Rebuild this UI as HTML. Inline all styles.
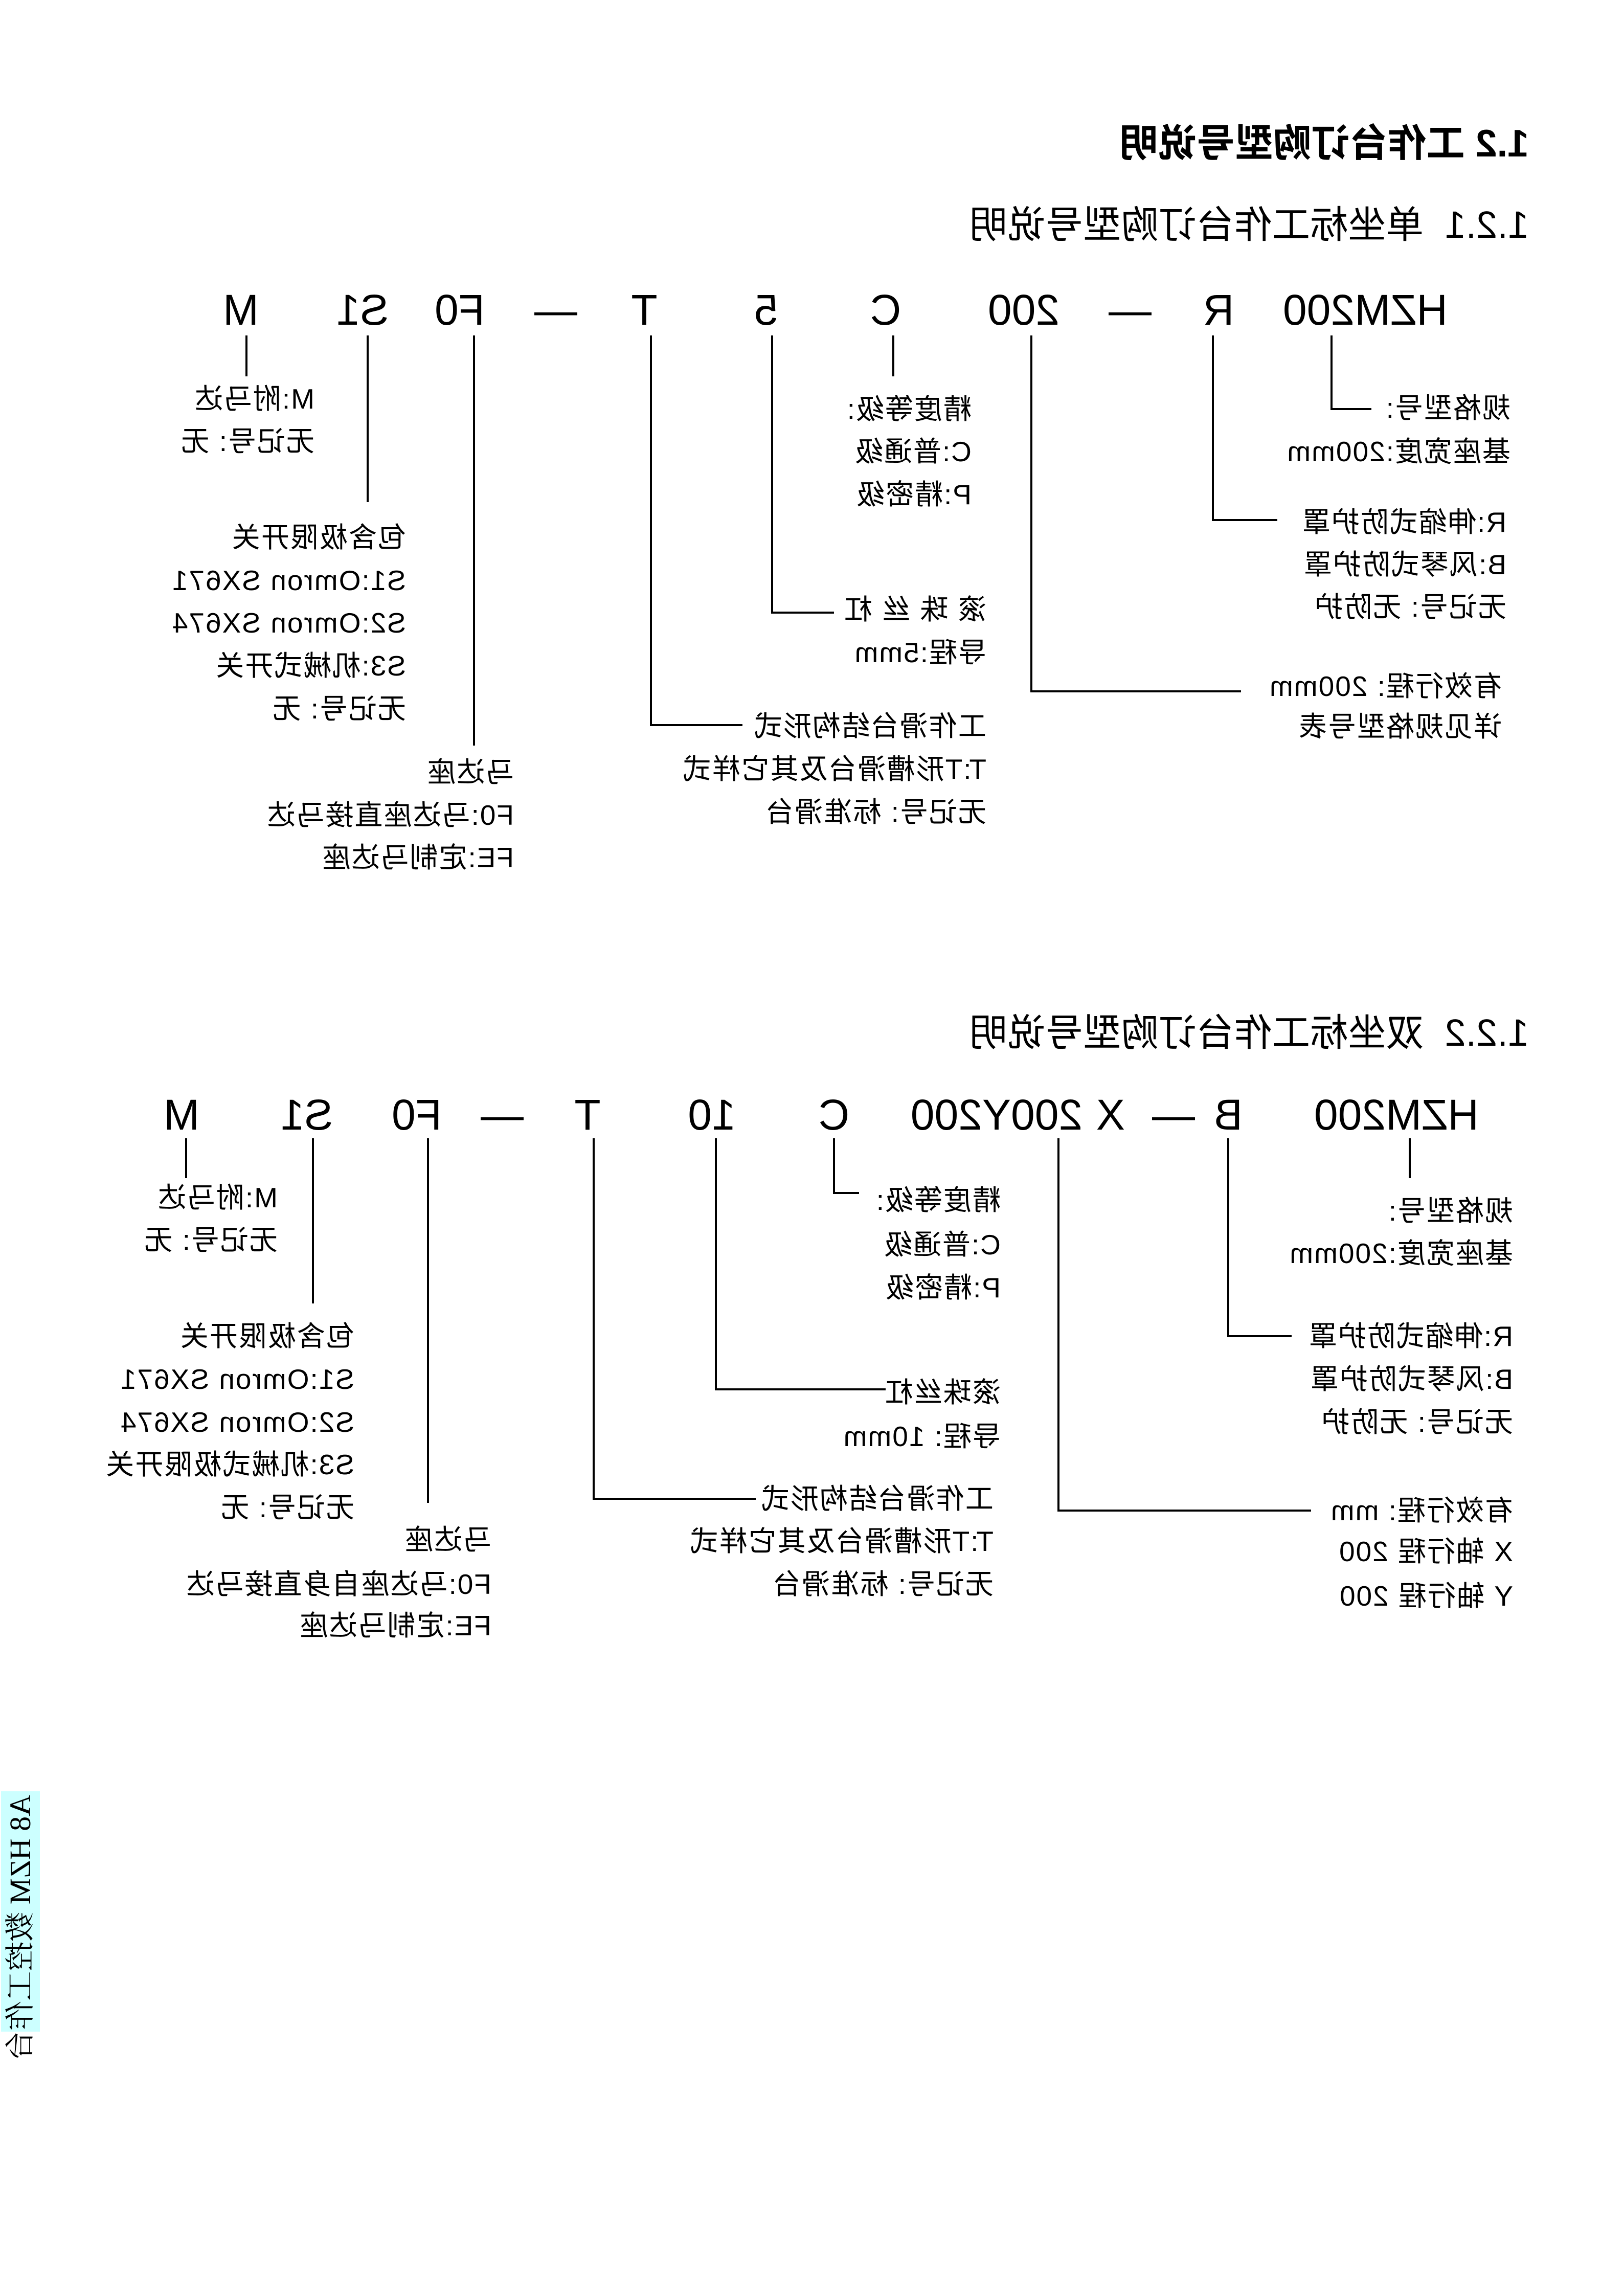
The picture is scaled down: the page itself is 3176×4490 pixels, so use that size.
<!DOCTYPE html>
<html><head><meta charset="utf-8"><style>
html,body{margin:0;padding:0;background:#fff;}
#wrap{position:relative;width:3176px;height:4490px;overflow:hidden;}
#m{position:absolute;left:0;top:0;width:3176px;height:4490px;transform:scaleX(-1);font-family:"Liberation Sans","Noto Sans CJK SC",sans-serif;color:#000;}
.c{position:absolute;font-size:84px;line-height:84px;transform:translateX(-50%);white-space:pre;}
.l{position:absolute;font-size:55px;line-height:60px;white-space:pre;letter-spacing:2px;}
.t{position:absolute;white-space:pre;}
.g{position:absolute;left:0;width:3176px;height:4490px;}
svg{position:absolute;left:0;top:0;}
</style></head><body><div id="wrap">
<svg width="3176" height="4490" stroke="#000" stroke-width="4" fill="none">
<path d="M482 656V736"/>
<path d="M719 656V982"/>
<path d="M927 656V1458"/>
<path d="M1273 656V1418H1452"/>
<path d="M1510 656V1198H1631"/>
<path d="M1747 656V736"/>
<path d="M2017 656V1352H2427"/>
<path d="M2372 656V1017H2498"/>
<path d="M2604 656V800H2682"/>
<g transform="translate(0,-20)">
<path d="M364 2246V2324"/>
<path d="M612 2246V2569"/>
<path d="M837 2246V2959"/>
<path d="M1161 2246V2951H1478"/>
<path d="M1400 2246V2737H1732"/>
<path d="M1631 2246V2353H1680"/>
<path d="M2070 2246V2974H2564"/>
<path d="M2402 2246V2633H2526"/>
<path d="M2757 2246V2324"/>
</g>
<rect x="2" y="3503" width="76" height="470" fill="#ccffff" stroke="none"/>
</svg>
<div id="m">
<div class="t" style="left:186px;top:240px;font-size:75px;line-height:80px;font-weight:bold;">1.2 工作台订购型号说明</div>
<div class="t" style="left:186px;top:400px;font-size:74px;line-height:80px;">1.2.1  单坐标工作台订购型号说明</div>
<div class="t" style="left:186px;top:1980px;font-size:74px;line-height:80px;">1.2.2  双坐标工作台订购型号说明</div>

<div class="c" style="left:2705px;top:564px">M</div>
<div class="c" style="left:2467px;top:564px">S1</div>
<div class="c" style="left:2277px;top:564px">F0</div>
<div class="c" style="left:2089px;top:564px">—</div>
<div class="c" style="left:1916px;top:564px">T</div>
<div class="c" style="left:1678px;top:564px">5</div>
<div class="c" style="left:1444px;top:564px">C</div>
<div class="c" style="left:1174px;top:564px">200</div>
<div class="c" style="left:966px;top:564px">—</div>
<div class="c" style="left:793px;top:564px">R</div>
<div class="c" style="left:506px;top:564px">HZM200</div>

<div class="l" style="left:2561px;top:750px">M:附马达</div>
<div class="l" style="left:2561px;top:833px">无记号: 无</div>
<div class="l" style="left:2382px;top:1021px">包含极限开关</div>
<div class="l" style="left:2382px;top:1105px">S1:Omron SX671</div>
<div class="l" style="left:2382px;top:1188px">S2:Omron SX674</div>
<div class="l" style="left:2382px;top:1272px">S3:机械式开关</div>
<div class="l" style="left:2382px;top:1356px">无记号: 无</div>
<div class="l" style="left:2171px;top:1480px">马达座</div>
<div class="l" style="left:2171px;top:1564px">F0:马达座直接马达</div>
<div class="l" style="left:2171px;top:1647px">FE:定制马达座</div>
<div class="l" style="left:1247px;top:1390px">工作滑台结构形式</div>
<div class="l" style="left:1247px;top:1474px">T:T形槽滑台及其它样式</div>
<div class="l" style="left:1247px;top:1558px">无记号: 标准滑台</div>
<div class="l" style="left:1247px;top:1162px">滚 珠 丝 杠</div>
<div class="l" style="left:1247px;top:1246px">导程:5mm</div>
<div class="l" style="left:1276px;top:770px">精度等级:</div>
<div class="l" style="left:1276px;top:853px">C:普通级</div>
<div class="l" style="left:1276px;top:937px">P:精密级</div>
<div class="l" style="left:222px;top:768px">规格型号:</div>
<div class="l" style="left:222px;top:853px">基座宽度:200mm</div>
<div class="l" style="left:230px;top:991px">R:伸缩式防护罩</div>
<div class="l" style="left:230px;top:1074px">B:风琴式防护罩</div>
<div class="l" style="left:230px;top:1157px">无记号: 无防护</div>
<div class="l" style="left:239px;top:1312px">有效行程: 200mm</div>
<div class="l" style="left:239px;top:1391px">详见规格型号表</div>

<div class="g" style="top:-20px">
<div class="c" style="left:2821px;top:2158px">M</div>
<div class="c" style="left:2576px;top:2158px">S1</div>
<div class="c" style="left:2361px;top:2158px">F0</div>
<div class="c" style="left:2194px;top:2158px">—</div>
<div class="c" style="left:2027px;top:2158px">T</div>
<div class="c" style="left:1784px;top:2158px">10</div>
<div class="c" style="left:1545px;top:2158px">C</div>
<div class="c" style="left:1227px;top:2158px">200Y200</div>
<div class="c" style="left:1004px;top:2158px">X</div>
<div class="c" style="left:881px;top:2158px">—</div>
<div class="c" style="left:774px;top:2158px">B</div>
<div class="c" style="left:445px;top:2158px">HZM200</div>

<div class="l" style="left:2633px;top:2332px">M:附马达</div>
<div class="l" style="left:2633px;top:2415px">无记号: 无</div>
<div class="l" style="left:2483px;top:2603px">包含极限开关</div>
<div class="l" style="left:2483px;top:2687px">S1:Omron SX671</div>
<div class="l" style="left:2483px;top:2771px">S2:Omron SX674</div>
<div class="l" style="left:2483px;top:2854px">S3:机械式极限开关</div>
<div class="l" style="left:2483px;top:2938px">无记号: 无</div>
<div class="l" style="left:2215px;top:3001px">马达座</div>
<div class="l" style="left:2215px;top:3088px">F0:马达座自身直接马达</div>
<div class="l" style="left:2215px;top:3169px">FE:定制马达座</div>
<div class="l" style="left:1233px;top:2921px">工作滑台结构形式</div>
<div class="l" style="left:1233px;top:3004px">T:T形槽滑台及其它样式</div>
<div class="l" style="left:1233px;top:3088px">无记号: 标准滑台</div>
<div class="l" style="left:1219px;top:2713px">滚珠丝杠</div>
<div class="l" style="left:1219px;top:2799px">导程: 10mm</div>
<div class="l" style="left:1219px;top:2337px">精度等级:</div>
<div class="l" style="left:1219px;top:2424px">C:普通级</div>
<div class="l" style="left:1219px;top:2508px">P:精密级</div>
<div class="l" style="left:217px;top:2358px">规格型号:</div>
<div class="l" style="left:217px;top:2441px">基座宽度:200mm</div>
<div class="l" style="left:217px;top:2603px">R:伸缩式防护罩</div>
<div class="l" style="left:217px;top:2687px">B:风琴式防护罩</div>
<div class="l" style="left:217px;top:2771px">无记号: 无防护</div>
<div class="l" style="left:217px;top:2944px">有效行程: mm</div>
<div class="l" style="left:217px;top:3024px">X 轴行程 200</div>
<div class="l" style="left:217px;top:3111px">Y 轴行程 200</div>
</div>

<div class="t" style="left:3098px;top:3510px;width:76px;height:460px;writing-mode:vertical-rl;text-orientation:sideways;font-family:'Liberation Serif','Noto Serif CJK SC',serif;font-size:58px;line-height:76px;">A8 HZM 数控工作台</div>
</div>
</div></body></html>
